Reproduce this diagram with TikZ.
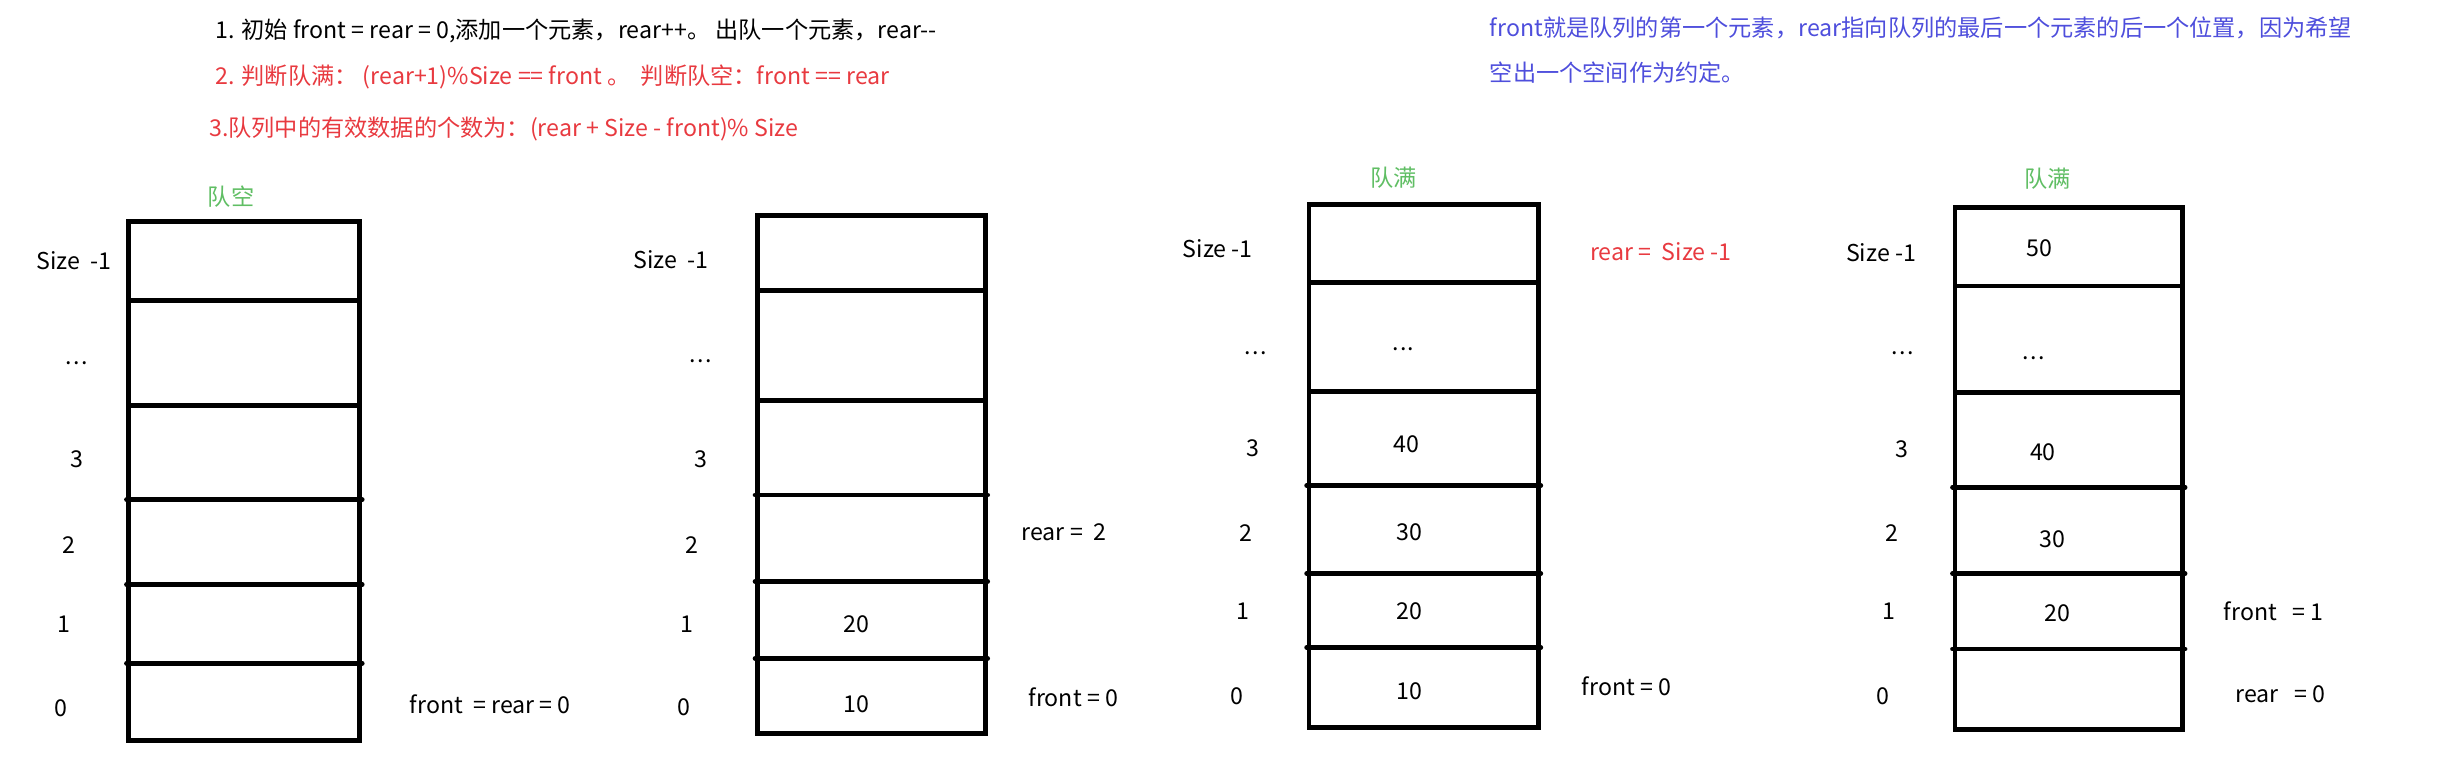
\documentclass[tikz,border=0pt]{standalone}
\usepackage{fontspec}
\setmainfont{Noto Sans CJK SC}
\definecolor{notered}{RGB}{232,58,64}
\definecolor{notegreen}{RGB}{96,190,100}
\definecolor{noteblue}{RGB}{78,78,220}
\newcommand\ellip{.\kern.06em.\kern.06em.}
\tikzset{
  cellbox/.style={line width=4.3pt},
  txt/.style={font=\fontsize{21}{25}\selectfont, inner sep=0pt},
}
\begin{document}
\begin{tikzpicture}[x=0.5mm,y=-0.5mm]
  \useasboundingbox (0,0) rectangle (1568,482);
  % notes
  \node[txt,anchor=west] (rule1) at (137,20) {1. 初始 front = rear = 0,添加一个元素，rear++。 出队一个元素，rear-{}-};
  \node[txt,anchor=west,notered] (rule2) at (137,49) {2. 判断队满： (rear+1)\%Size == front 。\ \ 判断队空：front == rear};
  \node[txt,anchor=west,notered] (rule3) at (133,82) {3.队列中的有效数据的个数为：(rear + Size - front)\% Size};
  \node[txt,anchor=west,noteblue] (note1) at (948,18) {front就是队列的第一个元素，rear指向队列的最后一个元素的后一个位置，因为希望};
  \node[txt,anchor=west,noteblue] (note2) at (948,46) {空出一个空间作为约定。};
  % titles
  \node[txt,notegreen] (empty) at (147,125) {队空};
  \node[txt,notegreen] (full1) at (887,113) {队满};
  \node[txt,notegreen] (full2) at (1303,114) {队满};
  % the four arrays
  \foreach \l/\r/\t/\b/\ys/\zs in {82/229/141/471/{191,258}/{318,372,422},
      482/627/137/467/{185,255}/{315,370,419},
      833/979/130/463/{180,249}/{309,365,412},
      1244/1389/132/464/{182,250}/{310,365,413}} {
    \draw[cellbox] (\l,\t) rectangle (\r,\b);
    \foreach \y in \ys \draw[cellbox] (\l,\y) -- (\r,\y);
    \foreach \y in \zs \draw[cellbox,line cap=round] (\l-1.5,\y) -- (\r+1.5,\y);
  }
  % index labels
  \foreach \x/\y/\s [count=\k] in {47/166/Size\ \ -1, 49/231/\ellip, 49/292/3, 44/347/2, 41/397/1, 39/451/0,
      427/165/Size\ \ -1, 446/230/\ellip, 446/292/3, 440/347/2, 437/397/1, 435/450/0,
      775/158/Size -1, 799/225/\ellip, 797/285/3, 793/339/2, 791/389/1, 787/443/0,
      1197/161/Size -1, 1211/225/\ellip, 1210/286/3, 1204/339/2, 1202/389/1, 1198/443/0}
    \node[txt] (idx\k) at (\x,\y) {\s};
  % stored values
  \foreach \x/\y/\s [count=\k] in {545/397/20, 545/448/10,
      893/222/\ellip, 895/283/40, 897/339/30, 897/389/20, 897/440/10,
      1298/158/50, 1294/228/\ellip, 1300/288/40, 1306/343/30, 1309/390/20}
    \node[txt] (val\k) at (\x,\y) {\s};
  % front / rear
  \node[txt] (fr1) at (312,448) {front\ \ = rear = 0};
  \node[txt] (re2) at (677,339) {rear =\ \ 2};
  \node[txt] (fr2) at (683,444) {front = 0};
  \node[txt,notered] (re3) at (1057,160) {rear =\ \ Size -1};
  \node[txt] (fr3) at (1035,437) {front = 0};
  \node[txt] (fr4) at (1447,389) {front\ \ \ = 1};
  \node[txt] (re4) at (1451,442) {rear\ \ \ = 0};
\end{tikzpicture}
\end{document}
